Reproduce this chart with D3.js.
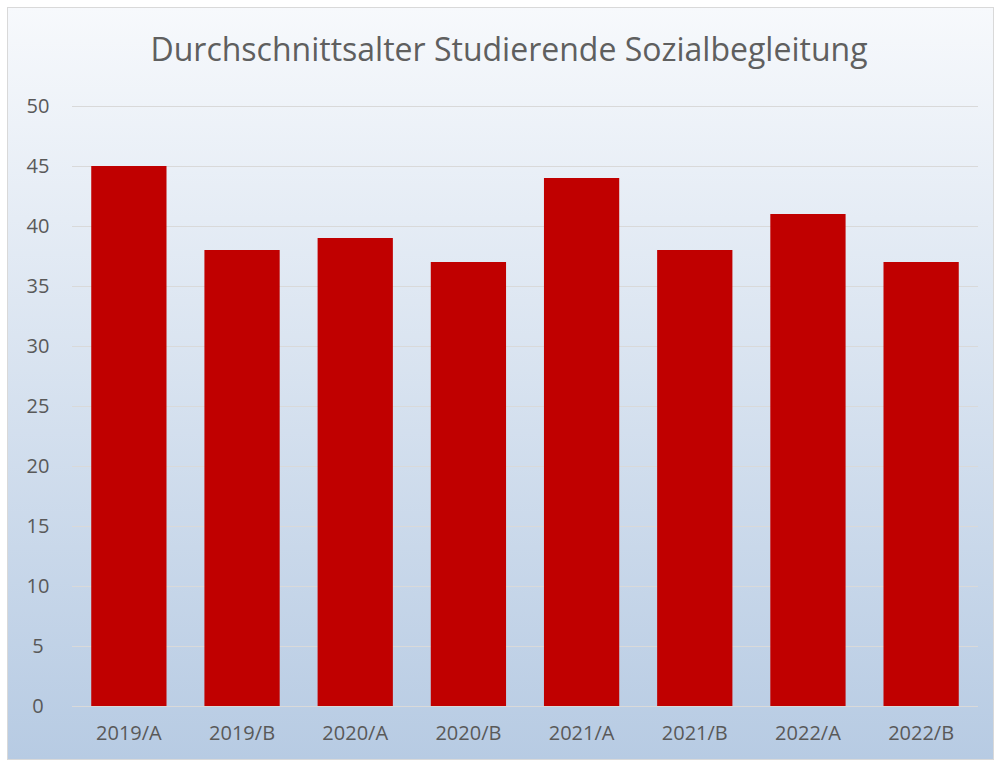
<!DOCTYPE html>
<html lang="de">
<head>
	<meta charset="utf-8">
	<title>Durchschnittsalter Studierende Sozialbegleitung</title>
	<script src="https://d3js.org/d3.v7.min.js"></script>
	<style>
		body { margin: 0; background: #fff; }
		text { font-family: "Open Sans", "Noto Sans", sans-serif; }
	</style>
</head>
<body>
	<script>
		// chart data
		var categories = ["2019/A", "2019/B", "2020/A", "2020/B", "2021/A", "2021/B", "2022/A", "2022/B"];
		var values = [45, 38, 39, 37, 44, 38, 41, 37];
		var yTicks = [0, 5, 10, 15, 20, 25, 30, 35, 40, 45, 50];
		var title = "Durchschnittsalter Studierende Sozialbegleitung";

		var svgWidth = 994,
			svgHeight = 760,
			margin = {top: 106, right: 16, bottom: 54, left: 72},
			width = 978 - margin.left,
			height = 706 - margin.top;

		var svg = d3.select("body")
			.append("svg")
			.attr("width", svgWidth)
			.attr("height", svgHeight);

		// background gradient (white at top, light blue at bottom)
		var grad = svg.append("defs").append("linearGradient")
			.attr("id", "bg")
			.attr("x1", 0).attr("y1", 0)
			.attr("x2", 0).attr("y2", 1);
		grad.append("stop").attr("offset", "0%").attr("stop-color", "#f7f9fc");
		grad.append("stop").attr("offset", "100%").attr("stop-color", "#b7cbe3");

		svg.append("rect")
			.attr("x", 7.5)
			.attr("y", 7.5)
			.attr("width", svgWidth - 8)
			.attr("height", svgHeight - 8)
			.attr("fill", "url(#bg)")
			.attr("stroke", "#d9d9d9");

		var g = svg.append("g").attr("transform", "translate(" + margin.left + "," + margin.top + ")");

		var x = d3.scaleBand()
			.domain(categories)
			.range([0, width])
			.paddingInner(0.335)
			.paddingOuter(0.17);

		var y = d3.scaleLinear()
			.domain([0, 50])
			.range([height, 0]);

		// gridlines
		g.append("g")
			.selectAll("line")
			.data(yTicks)
			.enter().append("line")
			.attr("x1", 0)
			.attr("x2", width)
			.attr("y1", function(d) { return Math.round(y(d)) + 0.5; })
			.attr("y2", function(d) { return Math.round(y(d)) + 0.5; })
			.attr("stroke", "#d9d9d9")
			.attr("stroke-width", 1);

		// bars
		g.append("g")
			.selectAll("rect")
			.data(values)
			.enter().append("rect")
			.attr("x", function(d, i) { return x(categories[i]); })
			.attr("y", function(d) { return y(d); })
			.attr("width", x.bandwidth())
			.attr("height", function(d) { return height - y(d); })
			.attr("fill", "#c00000");

		// y axis
		var yAxis = g.append("g")
			.call(d3.axisLeft(y).tickValues(yTicks).tickSize(0).tickPadding(0));
		yAxis.select(".domain").remove();
		yAxis.selectAll("text")
			.attr("x", -34)
			.attr("text-anchor", "middle")
			.attr("fill", "#595959")
			.attr("font-size", 20)
			.style("font-family", "'Open Sans', sans-serif");

		// x axis
		var xAxis = g.append("g")
			.attr("transform", "translate(0," + height + ")")
			.call(d3.axisBottom(x).tickSize(0).tickPadding(20));
		xAxis.select(".domain").remove();
		xAxis.selectAll("text")
			.attr("fill", "#595959")
			.attr("font-size", 20)
			.style("font-family", "'Open Sans', sans-serif");

		// title
		svg.append("text")
			.attr("x", 509)
			.attr("y", 61)
			.attr("text-anchor", "middle")
			.attr("fill", "#5f5f5f")
			.attr("font-size", 32)
			.text(title);
	</script>
</body>
</html>
